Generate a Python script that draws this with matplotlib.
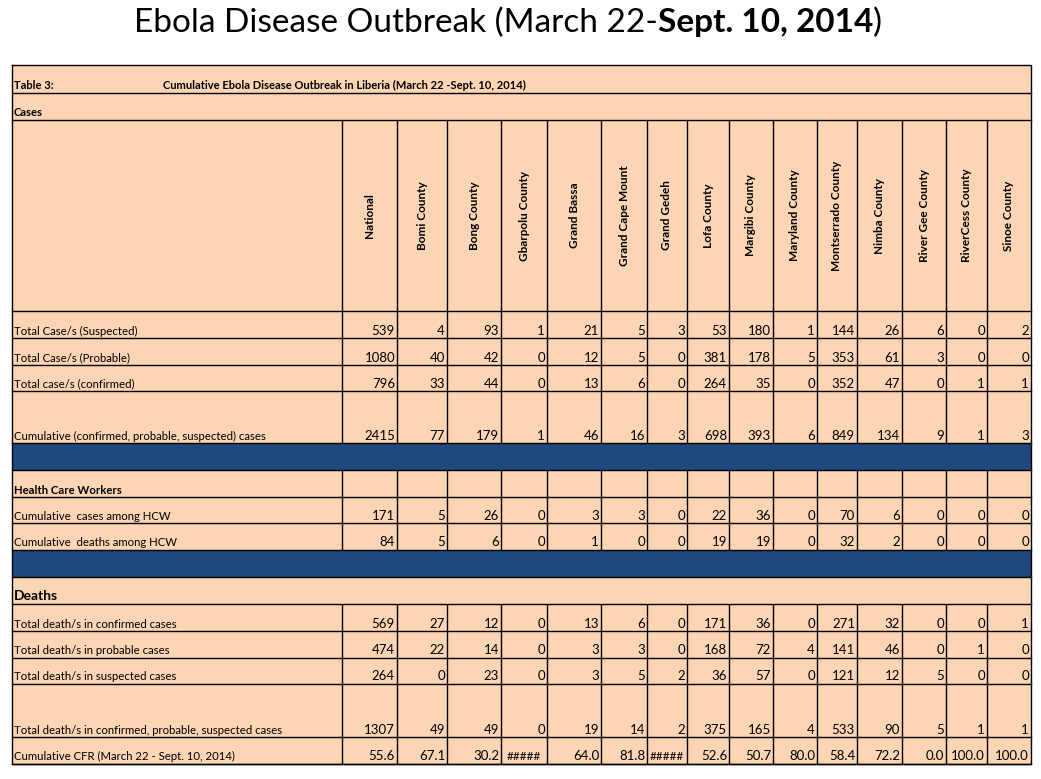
import matplotlib
matplotlib.use('Agg')
import matplotlib.pyplot as plt

plt.rcParams['font.family'] = ['Lato', 'DejaVu Sans']

title_parts = [('Ebola Disease Outbreak (March 22-', 'normal'),
               ('Sept. 10, 2014', 'bold'),
               (')', 'normal')]
table_title = 'Cumulative Ebola Disease Outbreak in Liberia (March 22 -Sept. 10, 2014)'

counties = ['National', 'Bomi County', 'Bong County', 'Gbarpolu County', 'Grand Bassa',
            'Grand Cape Mount', 'Grand Gedeh', 'Lofa County', 'Margibi County',
            'Maryland County', 'Montserrado County', 'Nimba County', 'River Gee County',
            'RiverCess County', 'Sinoe County']

cases_suspected = [539, 4, 93, 1, 21, 5, 3, 53, 180, 1, 144, 26, 6, 0, 2]
cases_probable = [1080, 40, 42, 0, 12, 5, 0, 381, 178, 5, 353, 61, 3, 0, 0]
cases_confirmed = [796, 33, 44, 0, 13, 6, 0, 264, 35, 0, 352, 47, 0, 1, 1]
cases_total = [2415, 77, 179, 1, 46, 16, 3, 698, 393, 6, 849, 134, 9, 1, 3]

hcw_cases = [171, 5, 26, 0, 3, 3, 0, 22, 36, 0, 70, 6, 0, 0, 0]
hcw_deaths = [84, 5, 6, 0, 1, 0, 0, 19, 19, 0, 32, 2, 0, 0, 0]

deaths_confirmed = [569, 27, 12, 0, 13, 6, 0, 171, 36, 0, 271, 32, 0, 0, 1]
deaths_probable = [474, 22, 14, 0, 3, 3, 0, 168, 72, 4, 141, 46, 0, 1, 0]
deaths_suspected = [264, 0, 23, 0, 3, 5, 2, 36, 57, 0, 121, 12, 5, 0, 0]
deaths_total = [1307, 49, 49, 0, 19, 14, 2, 375, 165, 4, 533, 90, 5, 1, 1]

# None -> cell too narrow in the source sheet, shown as #####
cfr = [55.6, 67.1, 30.2, None, 64.0, 81.8, None, 52.6, 50.7, 80.0, 58.4, 72.2, 0.0, 100.0, 100.0]

# (kind, label, values)
rows = [
    ('section', 'Table 3:', None),
    ('section', 'Cases', None),
    ('header', '', counties),
    ('data', 'Total Case/s (Suspected)', cases_suspected),
    ('data', 'Total Case/s (Probable)', cases_probable),
    ('data', 'Total case/s (confirmed)', cases_confirmed),
    ('data', 'Cumulative (confirmed, probable, suspected) cases', cases_total),
    ('band', '', None),
    ('data', 'Health Care Workers', None),
    ('data', 'Cumulative  cases among HCW', hcw_cases),
    ('data', 'Cumulative  deaths among HCW', hcw_deaths),
    ('band', '', None),
    ('section', 'Deaths', None),
    ('data', 'Total death/s in confirmed cases', deaths_confirmed),
    ('data', 'Total death/s in probable cases', deaths_probable),
    ('data', 'Total death/s in suspected cases', deaths_suspected),
    ('data', 'Total death/s in confirmed, probable, suspected cases', deaths_total),
    ('cfr', 'Cumulative CFR (March 22 - Sept. 10, 2014)', cfr),
]

# layout in pixels
row_edges = [65, 93, 120, 311, 338, 365, 391, 443, 470, 497, 523, 550, 577,
             604, 631, 658, 684, 737, 764]
col_edges = [12, 342, 397, 447, 501, 547, 601, 647, 687, 729, 773, 817, 857,
             902, 946, 987, 1031]

peach = '#FCD5B4'
navy = '#1F497D'
W, H = 1041, 779

fig = plt.figure(figsize=(W / 100, H / 100), dpi=100)
ax = fig.add_axes((0, 0, 1, 1))
ax.set_xlim(0, W)
ax.set_ylim(H, 0)
ax.axis('off')

left, right = col_edges[0], col_edges[-1]
ax.add_patch(plt.Rectangle((left, row_edges[0]), right - left,
                           row_edges[-1] - row_edges[0], fc=peach, ec='none'))

lw = 1.0
for i, (kind, label, vals) in enumerate(rows):
    top, bot = row_edges[i], row_edges[i + 1]
    if kind == 'band':
        ax.add_patch(plt.Rectangle((left, top), right - left, bot - top,
                                   fc=navy, ec='none'))
    # vertical grid lines
    if kind in ('header', 'data', 'cfr'):
        for x in col_edges[1:-1]:
            ax.plot([x, x], [top, bot], color='black', lw=lw, solid_capstyle='butt')
    ax.plot([left, right], [bot, bot], color='black', lw=lw)

    if kind == 'section':
        if label == 'Deaths':
            ax.text(left + 2, bot - 4, label, fontsize=10, fontweight='bold',
                    ha='left', va='baseline')
        else:
            ax.text(left + 2, bot - 4, label, fontsize=8, fontweight='bold',
                    ha='left', va='baseline')
        if label == 'Table 3:':
            ax.text(163, bot - 4, table_title, fontsize=8, fontweight='bold',
                    ha='left', va='baseline')
    elif kind == 'header':
        for j, name in enumerate(vals):
            xc = (col_edges[j + 1] + col_edges[j + 2]) / 2
            ax.text(xc, (top + bot) / 2, name, rotation=90, fontsize=8.5,
                    fontweight='bold', ha='center', va='center')
    elif kind in ('data', 'cfr'):
        bold = label == 'Health Care Workers'
        ax.text(left + 2, bot - 3.5, label, fontsize=8.2,
                fontweight='bold' if bold else 'normal', ha='left', va='baseline')
        if vals is not None:
            for j, v in enumerate(vals):
                x0, x1 = col_edges[j + 1], col_edges[j + 2]
                if v is None:
                    ax.text((x0 + x1) / 2, bot - 3.5, '#####', fontsize=8.5,
                            ha='center', va='baseline')
                    continue
                s = f'{v:.1f}' if kind == 'cfr' else f'{v:d}'
                ax.text(x1 - 2, bot - 3.5, s, fontsize=9.5, ha='right', va='baseline')

# outer frame
ax.plot([left, right, right, left, left],
        [row_edges[0], row_edges[0], row_edges[-1], row_edges[-1], row_edges[0]],
        color='black', lw=lw)

# title with bold date part, centred
renderer = fig.canvas.get_renderer()
pieces = []
for txt, wt in title_parts:
    t = ax.text(0, 32, txt, fontsize=24, fontweight=wt, ha='left', va='baseline')
    pieces.append(t)
widths = [p.get_window_extent(renderer).width for p in pieces]
x = 508 - sum(widths) / 2
for p, w in zip(pieces, widths):
    p.set_x(x)
    x += w

fig.savefig('out.png', dpi=100, facecolor='white')
